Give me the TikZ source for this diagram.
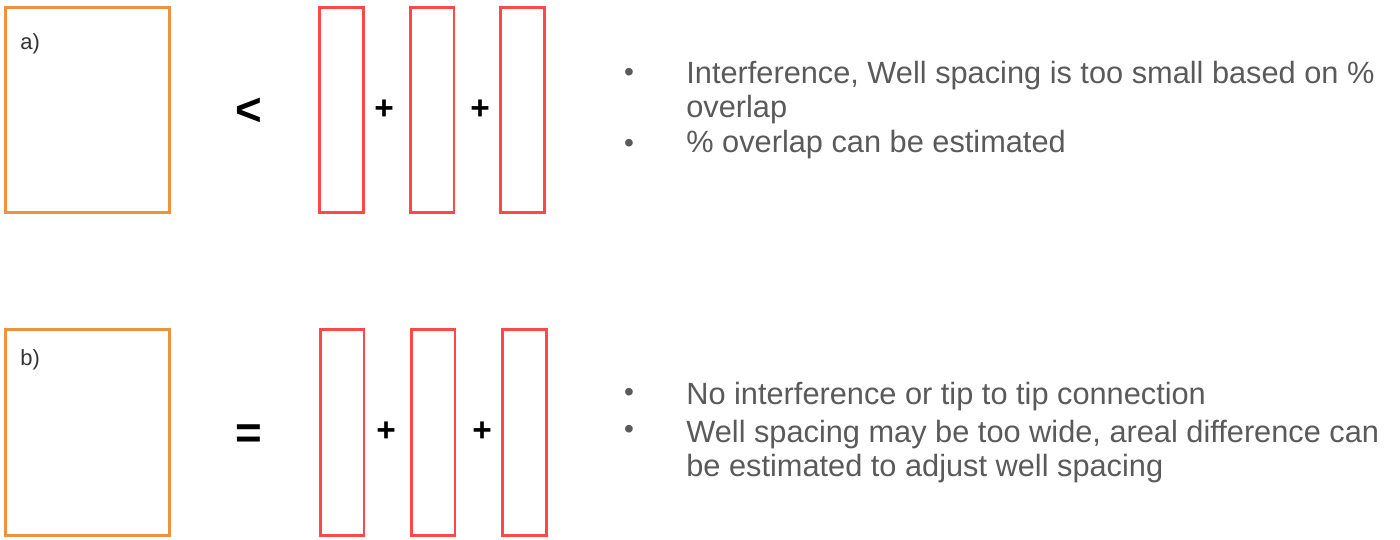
\documentclass[tikz,border=0pt]{standalone}
\usepackage{fontspec}
\setmainfont{Liberation Sans}
\usepackage{tikz}
\usetikzlibrary{positioning}
\definecolor{boxorange}{HTML}{F0913D}
\definecolor{barred}{HTML}{FF4848}
\definecolor{txtgray}{HTML}{5A5A5A}
\tikzstyle{bigbox} = [rectangle, draw=boxorange, line width=1.7pt, minimum width=3.3cm, minimum height=4.12cm]
\tikzstyle{bar} = [rectangle, draw=barred, line width=1.7pt, minimum width=0.88cm, minimum height=4.12cm]
\tikzstyle{sign} = [inner sep=0pt, font=\fontsize{26}{30}\selectfont\bfseries]
\tikzstyle{plus} = [inner sep=0pt, font=\fontsize{19}{22}\selectfont\bfseries]
\tikzstyle{tag} = [anchor=west, inner sep=0pt, text=black!80, font=\fontsize{12.5}{14}\selectfont]
\tikzstyle{item} = [anchor=base west, inner sep=0pt, text=txtgray, font=\fontsize{17.5}{19}\selectfont]
\tikzstyle{dot} = [inner sep=0pt, text=txtgray, font=\fontsize{16}{17}\selectfont]

\begin{document}
\begin{tikzpicture}[x=0.02cm,y=-0.02cm]
\useasboundingbox (0,0) rectangle (1400,540);
% a) overlap
\node (boxA) [bigbox] at (87.5,110) {};
\node (tagA) [tag] at (20,44) {a)};
\node (ltA) [sign] at (249,112) {<};
\node (barA1) [bar] at (341.5,110) {};
\node (barA2) [bar] at (432,110) {};
\node (barA3) [bar] at (522.5,110) {};
\node (plA1) [plus] at (384,110) {+};
\node (plA2) [plus] at (480,110) {+};
\node (dotA1) [dot] at (629,75) {•};
\node (dotA2) [dot] at (629,146) {•};
\node (txtA1) [item] at (686,84) {Interference, Well spacing is too small based on \%};
\node (txtA2) [item] at (686,118) {overlap};
\node (txtA3) [item] at (686,153) {\% overlap can be estimated};
% b) no overlap
\node (boxB) [bigbox] at (87.5,432.5) {};
\node (tagB) [tag] at (20,360) {b)};
\node (eqB) [sign] at (249,437) {=};
\node (barB1) [bar] at (342,432.5) {};
\node (barB2) [bar] at (433,432.5) {};
\node (barB3) [bar] at (524.5,432.5) {};
\node (plB1) [plus] at (386,432) {+};
\node (plB2) [plus] at (482,432) {+};
\node (dotB1) [dot] at (629,395) {•};
\node (dotB2) [dot] at (629,432) {•};
\node (txtB1) [item] at (686,405) {No interference or tip to tip connection};
\node (txtB2) [item] at (686,442) {Well spacing may be too wide, areal difference can};
\node (txtB3) [item] at (686,477) {be estimated to adjust well spacing};
\end{tikzpicture}
\end{document}
